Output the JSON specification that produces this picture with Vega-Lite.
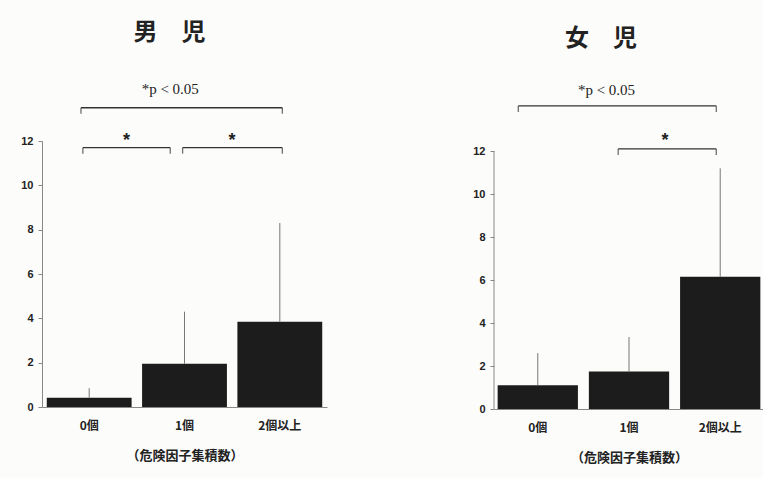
{
  "$schema": "https://vega.github.io/schema/vega-lite/v6.json",
  "background": "#fcfcfa",
  "padding": {"left": 20, "top": 20, "right": 0, "bottom": 30},
  "spacing": 145,
  "datasets": {
    "bars": [
      {"sex": "男児", "cat": "0個", "mean": 0.42, "upper": 0.85},
      {"sex": "男児", "cat": "1個", "mean": 1.95, "upper": 4.3},
      {"sex": "男児", "cat": "2個以上", "mean": 3.85, "upper": 8.3},
      {"sex": "女児", "cat": "0個", "mean": 1.1, "upper": 2.6},
      {"sex": "女児", "cat": "1個", "mean": 1.75, "upper": 3.35},
      {"sex": "女児", "cat": "2個以上", "mean": 6.15, "upper": 11.2}
    ],
    "brackets": [
      {"sex": "男児", "x1": 0.41, "x2": 2.53, "y": 13.5},
      {"sex": "男児", "x1": 0.43, "x2": 1.35, "y": 11.7},
      {"sex": "男児", "x1": 1.48, "x2": 2.53, "y": 11.7},
      {"sex": "女児", "x1": 0.27, "x2": 2.47, "y": 14.1},
      {"sex": "女児", "x1": 1.38, "x2": 2.47, "y": 12.1}
    ],
    "labels": [
      {"sex": "男児", "x": 1.35, "y": 14.35, "text": "*p < 0.05"},
      {"sex": "男児", "x": 0.89, "y": 12.2, "text": "*"},
      {"sex": "男児", "x": 2.0, "y": 12.2, "text": "*"},
      {"sex": "女児", "x": 1.25, "y": 14.85, "text": "*p < 0.05"},
      {"sex": "女児", "x": 1.9, "y": 12.65, "text": "*"}
    ],
    "axisline": [{"x": 0, "from": 0, "to": 12}]
  },
  "hconcat": [
    {
      "title": {"text": "男　児", "font": "Noto Sans CJK JP", "fontSize": 24, "fontWeight": "bold", "color": "#222", "dx": -15, "offset": 37},
      "width": 285,
      "height": 266,
      "layer": [
        {
          "data": {"name": "bars"},
          "transform": [{"filter": "datum.sex === '男児'"}],
          "mark": {"type": "bar", "color": "#1c1c1c"},
          "encoding": {
            "x": {"field": "cat", "type": "nominal", "sort": null, "title": "（危険因子集積数）", "scale": {"paddingInner": 0.11, "paddingOuter": 0.05}},
            "y": {"field": "mean", "type": "quantitative", "title": null, "scale": {"domain": [0, 12], "nice": false}}
          }
        },
        {
          "data": {"name": "bars"},
          "transform": [{"filter": "datum.sex === '男児'"}],
          "mark": {"type": "rule", "color": "#777", "strokeWidth": 1},
          "encoding": {
            "x": {"field": "cat", "type": "nominal", "sort": null, "axis": null, "scale": {"paddingInner": 0.11, "paddingOuter": 0.05}},
            "y": {"field": "mean", "type": "quantitative", "title": null, "scale": {"domain": [0, 12], "nice": false}},
            "y2": {"field": "upper"}
          }
        },
        {
          "data": {"name": "brackets"},
          "transform": [{"filter": "datum.sex === '男児'"}],
          "mark": {"type": "rule", "color": "#333", "strokeWidth": 1.3},
          "encoding": {
            "x": {"field": "x1", "type": "quantitative", "axis": null, "scale": {"domain": [0, 3], "nice": false, "zero": false}},
            "x2": {"field": "x2"},
            "y": {"field": "y", "type": "quantitative", "title": null, "scale": {"domain": [0, 12], "nice": false}}
          }
        },
        {
          "data": {"name": "brackets"},
          "transform": [{"filter": "datum.sex === '男児'"}],
          "mark": {"type": "tick", "orient": "vertical", "color": "#333", "size": 6, "thickness": 1.3, "yOffset": 3},
          "encoding": {
            "x": {"field": "x1", "type": "quantitative", "axis": null, "scale": {"domain": [0, 3], "nice": false, "zero": false}},
            "y": {"field": "y", "type": "quantitative", "title": null, "scale": {"domain": [0, 12], "nice": false}}
          }
        },
        {
          "data": {"name": "brackets"},
          "transform": [{"filter": "datum.sex === '男児'"}],
          "mark": {"type": "tick", "orient": "vertical", "color": "#333", "size": 6, "thickness": 1.3, "yOffset": 3},
          "encoding": {
            "x": {"field": "x2", "type": "quantitative", "axis": null, "scale": {"domain": [0, 3], "nice": false, "zero": false}},
            "y": {"field": "y", "type": "quantitative", "title": null, "scale": {"domain": [0, 12], "nice": false}}
          }
        },
        {
          "data": {"name": "labels"},
          "transform": [{"filter": "datum.sex === '男児' && datum.text !== '*'"}],
          "mark": {"type": "text", "font": "Liberation Serif", "fontSize": 15, "color": "#222", "baseline": "middle"},
          "encoding": {
            "x": {"field": "x", "type": "quantitative", "axis": null, "scale": {"domain": [0, 3], "nice": false, "zero": false}},
            "y": {"field": "y", "type": "quantitative", "title": null, "scale": {"domain": [0, 12], "nice": false}},
            "text": {"field": "text"}
          }
        },
        {
          "data": {"name": "labels"},
          "transform": [{"filter": "datum.sex === '男児' && datum.text === '*'"}],
          "mark": {"type": "text", "font": "Liberation Sans", "fontSize": 18, "fontWeight": "bold", "color": "#222", "baseline": "middle", "dy": 4},
          "encoding": {
            "x": {"field": "x", "type": "quantitative", "axis": null, "scale": {"domain": [0, 3], "nice": false, "zero": false}},
            "y": {"field": "y", "type": "quantitative", "title": null, "scale": {"domain": [0, 12], "nice": false}},
            "text": {"field": "text"}
          }
        }
      ],
      "resolve": {"scale": {"x": "independent"}}
    },
    {
      "title": {"text": "女　児", "font": "Noto Sans CJK JP", "fontSize": 24, "fontWeight": "bold", "color": "#222", "dx": -28, "offset": 32},
      "width": 270,
      "height": 268,
      "layer": [
        {
          "data": {"name": "bars"},
          "transform": [{"filter": "datum.sex === '女児'"}],
          "mark": {"type": "bar", "color": "#1c1c1c"},
          "encoding": {
            "x": {"field": "cat", "type": "nominal", "sort": null, "title": "（危険因子集積数）", "scale": {"paddingInner": 0.12, "paddingOuter": 0.04}},
            "y": {"field": "mean", "type": "quantitative", "title": null, "axis": {"domain": false}, "scale": {"domain": [0, 12.47], "nice": false}}
          }
        },
        {
          "data": {"name": "bars"},
          "transform": [{"filter": "datum.sex === '女児'"}],
          "mark": {"type": "rule", "color": "#777", "strokeWidth": 1},
          "encoding": {
            "x": {"field": "cat", "type": "nominal", "sort": null, "axis": null, "scale": {"paddingInner": 0.12, "paddingOuter": 0.04}},
            "y": {"field": "mean", "type": "quantitative", "title": null, "axis": {"domain": false}, "scale": {"domain": [0, 12.47], "nice": false}},
            "y2": {"field": "upper"}
          }
        },
        {
          "data": {"name": "axisline"},
          "mark": {"type": "rule", "color": "#888", "strokeWidth": 1},
          "encoding": {
            "x": {"field": "x", "type": "quantitative", "axis": null, "scale": {"domain": [0, 3], "nice": false, "zero": false}},
            "y": {"field": "from", "type": "quantitative", "title": null, "axis": {"domain": false}, "scale": {"domain": [0, 12.47], "nice": false}},
            "y2": {"field": "to"}
          }
        },
        {
          "data": {"name": "brackets"},
          "transform": [{"filter": "datum.sex === '女児'"}],
          "mark": {"type": "rule", "color": "#333", "strokeWidth": 1.3},
          "encoding": {
            "x": {"field": "x1", "type": "quantitative", "axis": null, "scale": {"domain": [0, 3], "nice": false, "zero": false}},
            "x2": {"field": "x2"},
            "y": {"field": "y", "type": "quantitative", "title": null, "axis": {"domain": false}, "scale": {"domain": [0, 12.47], "nice": false}}
          }
        },
        {
          "data": {"name": "brackets"},
          "transform": [{"filter": "datum.sex === '女児'"}],
          "mark": {"type": "tick", "orient": "vertical", "color": "#333", "size": 6, "thickness": 1.3, "yOffset": 3},
          "encoding": {
            "x": {"field": "x1", "type": "quantitative", "axis": null, "scale": {"domain": [0, 3], "nice": false, "zero": false}},
            "y": {"field": "y", "type": "quantitative", "title": null, "axis": {"domain": false}, "scale": {"domain": [0, 12.47], "nice": false}}
          }
        },
        {
          "data": {"name": "brackets"},
          "transform": [{"filter": "datum.sex === '女児'"}],
          "mark": {"type": "tick", "orient": "vertical", "color": "#333", "size": 6, "thickness": 1.3, "yOffset": 3},
          "encoding": {
            "x": {"field": "x2", "type": "quantitative", "axis": null, "scale": {"domain": [0, 3], "nice": false, "zero": false}},
            "y": {"field": "y", "type": "quantitative", "title": null, "axis": {"domain": false}, "scale": {"domain": [0, 12.47], "nice": false}}
          }
        },
        {
          "data": {"name": "labels"},
          "transform": [{"filter": "datum.sex === '女児' && datum.text !== '*'"}],
          "mark": {"type": "text", "font": "Liberation Serif", "fontSize": 15, "color": "#222", "baseline": "middle"},
          "encoding": {
            "x": {"field": "x", "type": "quantitative", "axis": null, "scale": {"domain": [0, 3], "nice": false, "zero": false}},
            "y": {"field": "y", "type": "quantitative", "title": null, "axis": {"domain": false}, "scale": {"domain": [0, 12.47], "nice": false}},
            "text": {"field": "text"}
          }
        },
        {
          "data": {"name": "labels"},
          "transform": [{"filter": "datum.sex === '女児' && datum.text === '*'"}],
          "mark": {"type": "text", "font": "Liberation Sans", "fontSize": 18, "fontWeight": "bold", "color": "#222", "baseline": "middle", "dy": 4},
          "encoding": {
            "x": {"field": "x", "type": "quantitative", "axis": null, "scale": {"domain": [0, 3], "nice": false, "zero": false}},
            "y": {"field": "y", "type": "quantitative", "title": null, "axis": {"domain": false}, "scale": {"domain": [0, 12.47], "nice": false}},
            "text": {"field": "text"}
          }
        }
      ],
      "resolve": {"scale": {"x": "independent"}}
    }
  ],
  "config": {
    "view": {"stroke": null},
    "axis": {"grid": false, "domainColor": "#888", "tickColor": "#888", "labelColor": "#222", "labelFontWeight": "bold"},
    "axisX": {"labelFont": "Noto Sans CJK JP", "labelFontSize": 12, "labelAngle": 0, "ticks": false, "labelPadding": 13, "titleFont": "Noto Sans CJK JP", "titleFontSize": 13, "titleFontWeight": "bold", "titleColor": "#222", "titlePadding": 18},
    "axisY": {"labelFont": "Liberation Sans", "labelFontSize": 11, "tickSize": 4, "labelPadding": 5, "values": [0, 2, 4, 6, 8, 10, 12]}
  }
}
